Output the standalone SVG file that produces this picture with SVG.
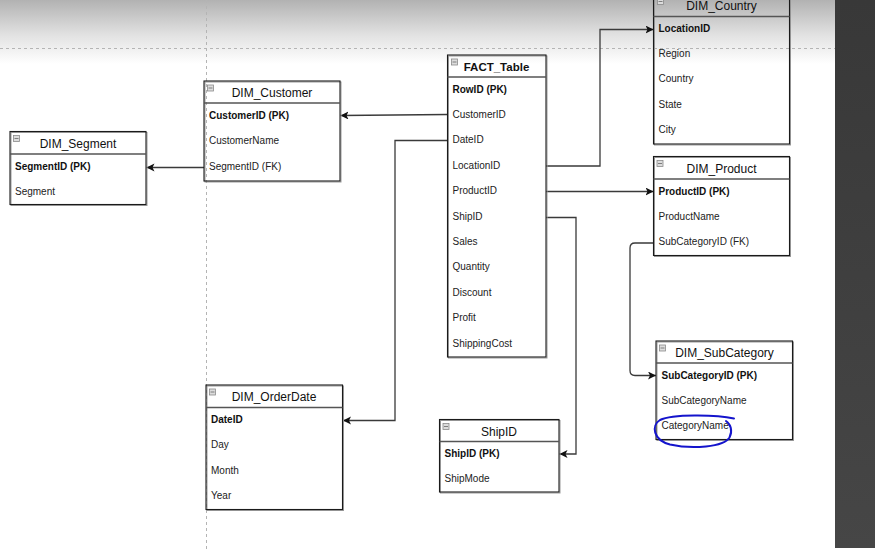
<svg xmlns="http://www.w3.org/2000/svg" width="875" height="549" viewBox="0 0 875 549">
<defs>
<linearGradient id="topg" x1="0" y1="0" x2="0" y2="1">
<stop offset="0" stop-color="#b2b2b2"/>
<stop offset="0.55" stop-color="#e2e2e2"/>
<stop offset="1" stop-color="#ffffff"/>
</linearGradient>
<linearGradient id="side" x1="0" y1="0" x2="0" y2="1">
<stop offset="0" stop-color="#383838"/>
<stop offset="1" stop-color="#464646"/>
</linearGradient>
<marker id="arr" markerUnits="userSpaceOnUse" markerWidth="10" markerHeight="10" refX="8" refY="4" orient="auto">
<path d="M0,0 L8,4 L0,8 L2,4 z" fill="#111"/>
</marker>
</defs>
<style>
.box{fill:none;stroke:#1a1a1a;stroke-width:1.1}
.shadow{fill:none;stroke:#9a9a9a;stroke-width:1}
.hdr{stroke:#555;stroke-width:1.5}
.ttl{font-family:"Liberation Sans",Arial,sans-serif;font-size:12px;fill:#111;text-anchor:middle}
.row{font-family:"Liberation Sans",Arial,sans-serif;font-size:10px;fill:#222}
.pk{font-weight:bold;fill:#111}
.ico{fill:#dcdcdc;stroke:#8a8a8a;stroke-width:0.8}
.icl{stroke:#666;stroke-width:0.8}
.con{fill:none;stroke:#3a3a3a;stroke-width:1.3}
.dash{stroke:#b4b4b4;stroke-width:1;stroke-dasharray:3,3}
</style>
<rect x="0" y="0" width="875" height="549" fill="#ffffff"/>
<rect x="0" y="0" width="835" height="64" fill="url(#topg)"/>
<line class="dash" x1="0" y1="48.5" x2="835" y2="48.5"/>
<line class="dash" x1="206.5" y1="0" x2="206.5" y2="549"/>
<rect x="835" y="0" width="40" height="548" fill="url(#side)"/>

<g id="connectors">
<path class="con" d="M204,167.5 L146.5,167.5" marker-end="url(#arr)"/>
<path class="con" d="M447.5,114.5 L340.5,115.5" marker-end="url(#arr)"/>
<path class="con" d="M447.5,140.5 L395,140.5 L395,420.5 L343,420.5" marker-end="url(#arr)"/>
<path class="con" d="M546,166 L600,166 L600,29.5 L653.5,29.5" marker-end="url(#arr)"/>
<path class="con" d="M546,191.5 L653.5,191.5" marker-end="url(#arr)"/>
<path class="con" d="M546,217.5 L576,217.5 L576,454 L559.5,454" marker-end="url(#arr)"/>
<path class="con" d="M653.5,243 L635,243 Q630,243 630,248 L630,370.5 Q630,375.5 635,375.5 L656,375.5" marker-end="url(#arr)"/>
</g>

<g id="DIM_Country">
<rect class="shadow" x="654.5" y="-4.5" width="136" height="149.5"/>
<rect class="box" x="653.5" y="-5.5" width="136" height="149.5"/>
<line class="hdr" x1="653.5" y1="16.5" x2="789.5" y2="16.5"/>
<rect class="ico" x="657.5" y="-1.5" width="6" height="6"/><line class="icl" x1="658.5" y1="1.5" x2="662.5" y2="1.5"/>
<text class="ttl" x="721.5" y="10">DIM_Country</text>
<text class="row pk" x="658.5" y="31.5">LocationID</text>
<text class="row" x="658.5" y="57">Region</text>
<text class="row" x="658.5" y="82.4">Country</text>
<text class="row" x="658.5" y="107.8">State</text>
<text class="row" x="658.5" y="133.2">City</text>
</g>

<g id="FACT_Table">
<rect class="shadow" x="448.5" y="56" width="98.5" height="302"/>
<rect class="box" x="447.5" y="55" width="98.5" height="302"/>
<line class="hdr" x1="447.5" y1="77" x2="546" y2="77"/>
<rect class="ico" x="451.5" y="59" width="6" height="6"/><line class="icl" x1="452.5" y1="62" x2="456.5" y2="62"/>
<text class="ttl" x="496.5" y="71" style="font-weight:bold;font-size:11.5px">FACT_Table</text>
<text class="row pk" x="452.5" y="92.5">RowID (PK)</text>
<text class="row" x="452.5" y="117.9">CustomerID</text>
<text class="row" x="452.5" y="143.3">DateID</text>
<text class="row" x="452.5" y="168.7">LocationID</text>
<text class="row" x="452.5" y="194.1">ProductID</text>
<text class="row" x="452.5" y="219.5">ShipID</text>
<text class="row" x="452.5" y="244.9">Sales</text>
<text class="row" x="452.5" y="270.3">Quantity</text>
<text class="row" x="452.5" y="295.7">Discount</text>
<text class="row" x="452.5" y="321.1">Profit</text>
<text class="row" x="452.5" y="346.5">ShippingCost</text>
</g>

<g id="DIM_Customer">
<rect class="shadow" x="205" y="82" width="136" height="100"/>
<rect class="box" x="204" y="81" width="136" height="100"/>
<line class="hdr" x1="204" y1="103" x2="340" y2="103"/>
<rect class="ico" x="207.5" y="85" width="6" height="6"/><line class="icl" x1="208.5" y1="88" x2="212.5" y2="88"/>
<text class="ttl" x="272" y="96.5">DIM_Customer</text>
<text class="row pk" x="209" y="118.5">CustomerID (PK)</text>
<text class="row" x="209" y="144">CustomerName</text>
<text class="row" x="209" y="169.5">SegmentID (FK)</text>
</g>

<g id="DIM_Segment">
<rect class="shadow" x="11" y="132.5" width="136" height="73"/>
<rect class="box" x="10" y="131.5" width="136" height="73"/>
<line class="hdr" x1="10" y1="154" x2="146" y2="154"/>
<rect class="ico" x="13.5" y="135.5" width="6" height="6"/><line class="icl" x1="14.5" y1="138.5" x2="18.5" y2="138.5"/>
<text class="ttl" x="78" y="147.5">DIM_Segment</text>
<text class="row pk" x="15" y="169.5">SegmentID (PK)</text>
<text class="row" x="15" y="194.5">Segment</text>
</g>

<g id="DIM_Product">
<rect class="shadow" x="654.5" y="157.5" width="136" height="99"/>
<rect class="box" x="653.5" y="156.5" width="136" height="99"/>
<line class="hdr" x1="653.5" y1="179" x2="789.5" y2="179"/>
<rect class="ico" x="657" y="160.5" width="6" height="6"/><line class="icl" x1="658" y1="163.5" x2="662" y2="163.5"/>
<text class="ttl" x="721.5" y="172.5">DIM_Product</text>
<text class="row pk" x="658.5" y="194.5">ProductID (PK)</text>
<text class="row" x="658.5" y="219.5">ProductName</text>
<text class="row" x="658.5" y="245">SubCategoryID (FK)</text>
</g>

<g id="DIM_SubCategory">
<rect class="shadow" x="657" y="342" width="136.5" height="98.5"/>
<rect class="box" x="656" y="341" width="136.5" height="98.5"/>
<line class="hdr" x1="656" y1="363" x2="792.5" y2="363"/>
<rect class="ico" x="659.5" y="345" width="6" height="6"/><line class="icl" x1="660.5" y1="348" x2="664.5" y2="348"/>
<text class="ttl" x="724.5" y="357">DIM_SubCategory</text>
<text class="row pk" x="661.5" y="379">SubCategoryID (PK)</text>
<text class="row" x="661.5" y="404">SubCategoryName</text>
<text class="row" x="661.5" y="429">CategoryName</text>
<path d="M734,418.5 C716,414.5 672,414 660,420 C651,425.5 653,440 670,444.5 C692,449.5 724,447 729.5,437.5 C733,430.5 730.5,424 726,421" fill="none" stroke="#1414cc" stroke-width="2" stroke-linecap="round"/>
</g>

<g id="DIM_OrderDate">
<rect class="shadow" x="207" y="386" width="136.5" height="124.5"/>
<rect class="box" x="206" y="385" width="136.5" height="124.5"/>
<line class="hdr" x1="206" y1="407.5" x2="342.5" y2="407.5"/>
<rect class="ico" x="209.5" y="389" width="6" height="6"/><line class="icl" x1="210.5" y1="392" x2="214.5" y2="392"/>
<text class="ttl" x="274" y="401">DIM_OrderDate</text>
<text class="row pk" x="211" y="422.5">DateID</text>
<text class="row" x="211" y="448">Day</text>
<text class="row" x="211" y="473.5">Month</text>
<text class="row" x="211" y="499">Year</text>
</g>

<g id="ShipID">
<rect class="shadow" x="440.5" y="420.5" width="119.5" height="72.5"/>
<rect class="box" x="439.5" y="419.5" width="119.5" height="72.5"/>
<line class="hdr" x1="439.5" y1="441.5" x2="559" y2="441.5"/>
<rect class="ico" x="443" y="423.5" width="6" height="6"/><line class="icl" x1="444" y1="426.5" x2="448" y2="426.5"/>
<text class="ttl" x="499" y="435.5">ShipID</text>
<text class="row pk" x="444.5" y="456.5">ShipID (PK)</text>
<text class="row" x="444.5" y="482">ShipMode</text>
</g>
</svg>
